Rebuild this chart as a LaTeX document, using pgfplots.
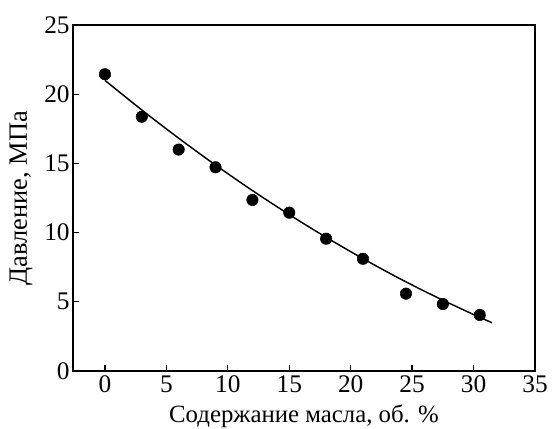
\documentclass[border=0pt]{standalone}
\usepackage{pgfplots}
\pgfplotsset{compat=1.18}
\usepackage{fontspec}
\setmainfont{Liberation Serif}

% measured points
\pgfplotstableread{
x     y
0     21.44
3     18.37
6     16.0
9     14.72
12    12.36
15    11.44
18    9.56
21    8.11
24.5  5.59
27.5  4.84
30.5  4.05
}\measured

% fitted curve
\pgfplotstableread{
x     y
0     21.0
3     18.86
6     16.82
9     14.88
12    13.04
15    11.30
18    9.66
21    8.12
24    6.67
27    5.33
30    4.08
31.5  3.49
}\fitted

\begin{document}
\begin{tikzpicture}
\begin{axis}[
  scale only axis,
  width=346.5pt, height=259.5pt,
  xmin=-2.6, xmax=35, ymin=0, ymax=25,
  xtick={0,5,...,35}, ytick={0,5,...,25},
  tick align=inside,
  xtick pos=bottom, ytick pos=left,
  major tick length=4.5pt,
  axis line style={line width=1.4pt},
  tick style={line width=1pt, black},
  ticklabel style={font=\fontsize{19}{19}\selectfont},
  yticklabel style={xshift=1pt},
  /pgf/number format/assume math mode=true,
  label style={font=\fontsize{18.6}{19}\selectfont},
  xlabel={Содержание масла, об. \%},
  ylabel={Давление, МПа},
  xlabel style={yshift=-2pt},
  ylabel style={yshift=2pt, font=\fontsize{19.8}{20}\selectfont},
]
\addplot[black, line width=1.1pt, smooth] table[x=x, y=y] {\fitted};
\addplot[only marks, mark=*, mark size=4.3pt, black] table[x=x, y=y] {\measured};
\end{axis}
\pgfresetboundingbox
\path ([shift={(-54.75pt,-42.75pt)}]current axis.south west) rectangle ([shift={(359.25pt,278.25pt)}]current axis.south west);
\end{tikzpicture}
\end{document}
